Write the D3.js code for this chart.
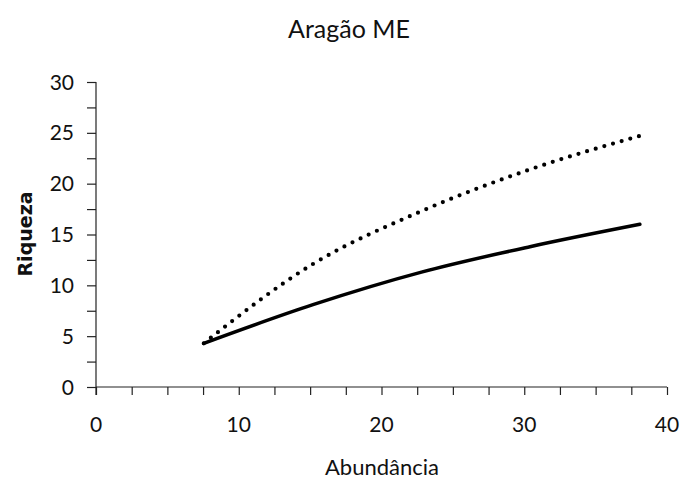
<!DOCTYPE html>
<html>
<head>
<meta charset="utf-8">
<script src="https://cdn.jsdelivr.net/npm/d3@7"></script>
<style>
  html, body { margin: 0; padding: 0; background: #fff; }
  svg { display: block; }
  text { fill: #111; }
</style>
</head>
<body>
<svg id="chart" width="682" height="479"></svg>
<script>
// Sample sizes (abundance) along the rarefaction curves
const abundance = [7.55, 15.2, 22.8, 30.4, 38.1];
// Observed richness (solid curve)
const riquezaObs = [4.3, 8.1, 11.3, 13.8, 16.0];
// Estimated richness (dotted curve)
const riquezaEst = [4.3, 12.1, 17.3, 21.4, 24.7];

const xTicks = [0, 10, 20, 30, 40];
const yTicks = [0, 5, 10, 15, 20, 25, 30];

const svg = d3.select("#chart");
const margin = { left: 96, right: 15, top: 82, bottom: 92 };
const W = 682, H = 479;

const x = d3.scaleLinear().domain([0, 40]).range([margin.left, W - margin.right]);
const y = d3.scaleLinear().domain([0, 30]).range([H - margin.bottom, margin.top]);

const font = "Lato, 'Open Sans', sans-serif";

// x axis: line, minor ticks every 2.5, labels every 10
const xAxis = d3.axisBottom(x)
  .tickValues(d3.range(0, 40.01, 2.5))
  .tickSize(8)
  .tickFormat("");
const gx = svg.append("g")
  .attr("transform", `translate(0,${y(0)})`)
  .call(xAxis);
gx.select(".domain").attr("d", `M${x(0)},0H${x(40)}`);
gx.selectAll("line, path").attr("stroke", "#222").attr("stroke-width", 1.2);

svg.append("g").selectAll("text").data(xTicks).join("text")
  .attr("x", d => x(d))
  .attr("y", y(0) + 45)
  .attr("text-anchor", "middle")
  .style("font-family", font)
  .style("font-size", "21px")
  .text(d => d);

// y axis: line, minor ticks every 2.5, labels every 5
const yAxis = d3.axisLeft(y)
  .tickValues(d3.range(0, 30.01, 2.5))
  .tickSize(9)
  .tickFormat("");
const gy = svg.append("g")
  .attr("transform", `translate(${x(0)},0)`)
  .call(yAxis);
gy.select(".domain").attr("d", `M0,${y(30)}V${y(0) + 8}`);
gy.selectAll("line, path").attr("stroke", "#222").attr("stroke-width", 1.2);

svg.append("g").selectAll("text").data(yTicks).join("text")
  .attr("x", x(0) - 22)
  .attr("y", d => y(d))
  .attr("dy", "0.36em")
  .attr("text-anchor", "end")
  .style("font-family", font)
  .style("font-size", "21px")
  .text(d => d);

// Curves
const line = d3.line()
  .x((d, i) => x(abundance[i]))
  .y(d => y(d))
  .curve(d3.curveMonotoneX);

svg.append("path")
  .datum(riquezaEst)
  .attr("d", line)
  .attr("fill", "none")
  .attr("stroke", "#000")
  .attr("stroke-width", 4.2)
  .attr("stroke-linecap", "round")
  .attr("stroke-dasharray", "0,9");

svg.append("path")
  .datum(riquezaObs)
  .attr("d", line)
  .attr("fill", "none")
  .attr("stroke", "#000")
  .attr("stroke-width", 3.5)
  .attr("stroke-linecap", "round");

// Title and axis titles
svg.append("text")
  .attr("x", 349)
  .attr("y", 38)
  .attr("text-anchor", "middle")
  .style("font-family", font)
  .style("font-size", "25px")
  .text("Aragão ME");

svg.append("text")
  .attr("x", 382)
  .attr("y", 475)
  .attr("text-anchor", "middle")
  .style("font-family", font)
  .style("font-size", "22px")
  .text("Abundância");

svg.append("text")
  .attr("transform", `translate(32,234) rotate(-90)`)
  .attr("text-anchor", "middle")
  .style("font-family", "'DejaVu Sans', Verdana, sans-serif")
  .style("font-weight", "bold")
  .style("font-size", "19px")
  .text("Riqueza");
</script>
</body>
</html>
